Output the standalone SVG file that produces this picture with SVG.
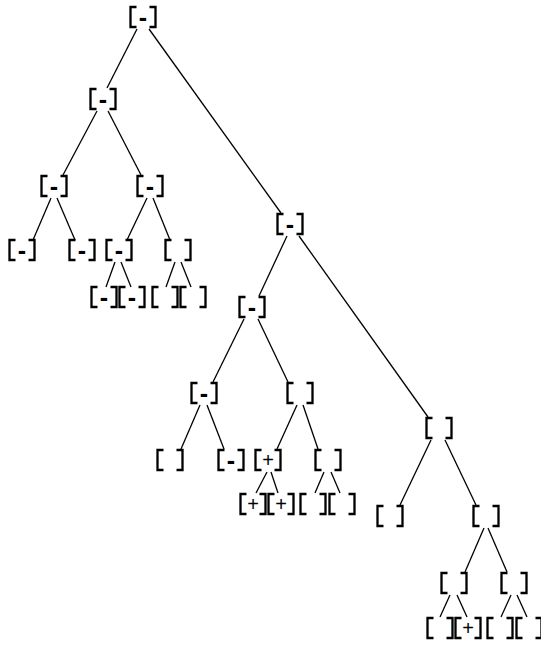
<svg xmlns="http://www.w3.org/2000/svg" width="541" height="646" viewBox="0 0 541 646">
<style>
.b{fill:none;stroke:#000;stroke-width:2.3;stroke-linejoin:miter}
.e line{stroke:#000;stroke-width:1.3}
.m{font-family:"Liberation Sans",Arial,sans-serif;font-weight:bold;font-size:25px;text-anchor:middle;dominant-baseline:central;fill:#000}
.p{font-family:"Liberation Sans",Arial,sans-serif;font-size:20px;text-anchor:middle;dominant-baseline:central;fill:#000}
</style>
<defs>
<path id="bx" class="b" d="M-6.5,-10H-12.5V10H-6.5M6.5,-10H12.5V10H6.5"/>
</defs>
<rect width="541" height="646" fill="#fff"/>
<g class="e" id="edges">
<line x1="137" y1="29" x2="107" y2="88"/>
<line x1="149" y1="29" x2="281" y2="213"/>
<line x1="97" y1="111" x2="63" y2="175"/>
<line x1="108" y1="111" x2="141" y2="175"/>
<line x1="51" y1="198" x2="33" y2="240"/>
<line x1="57" y1="198" x2="75" y2="240"/>
<line x1="147" y1="198" x2="127" y2="240"/>
<line x1="153" y1="198" x2="170" y2="240"/>
<line x1="115" y1="262" x2="106" y2="287"/>
<line x1="121" y1="262" x2="131" y2="287"/>
<line x1="175" y1="262" x2="166" y2="287"/>
<line x1="181" y1="262" x2="191" y2="287"/>
<line x1="287" y1="236" x2="259" y2="296"/>
<line x1="299" y1="236" x2="428" y2="417"/>
<line x1="244" y1="319" x2="213" y2="382"/>
<line x1="258" y1="319" x2="288" y2="382"/>
<line x1="200" y1="405" x2="181" y2="449"/>
<line x1="207" y1="405" x2="224" y2="449"/>
<line x1="297" y1="405" x2="277" y2="449"/>
<line x1="303" y1="405" x2="318" y2="449"/>
<line x1="267" y1="472" x2="256" y2="493"/>
<line x1="271" y1="472" x2="278" y2="493"/>
<line x1="324" y1="472" x2="315" y2="493"/>
<line x1="331" y1="472" x2="340" y2="493"/>
<line x1="431" y1="440" x2="400" y2="505"/>
<line x1="445" y1="440" x2="476" y2="505"/>
<line x1="484" y1="528" x2="465" y2="572"/>
<line x1="488" y1="528" x2="507" y2="572"/>
<line x1="450" y1="595" x2="440" y2="617"/>
<line x1="457" y1="595" x2="467" y2="617"/>
<line x1="511" y1="595" x2="501" y2="617"/>
<line x1="517" y1="595" x2="527" y2="617"/>
</g>
<g id="n0" transform="translate(143,17)"><use href="#bx"/><text class="m">-</text></g>
<g id="n1" transform="translate(103,99)"><use href="#bx"/><text class="m">-</text></g>
<g id="n2" transform="translate(54,186)"><use href="#bx"/><text class="m">-</text></g>
<g id="n3" transform="translate(150,186)"><use href="#bx"/><text class="m">-</text></g>
<g id="n4" transform="translate(22,250)"><use href="#bx"/><text class="m">-</text></g>
<g id="n5" transform="translate(82,250)"><use href="#bx"/><text class="m">-</text></g>
<g id="n6" transform="translate(119,250)"><use href="#bx"/><text class="m">-</text></g>
<g id="n7" transform="translate(178,250)"><use href="#bx"/></g>
<g id="n8" transform="translate(104,297)"><use href="#bx"/><text class="m">-</text></g>
<g id="n9" transform="translate(132,297)"><use href="#bx"/><text class="m">-</text></g>
<g id="n10" transform="translate(165,297)"><use href="#bx"/></g>
<g id="n11" transform="translate(193,297)"><use href="#bx"/></g>
<g id="n12" transform="translate(290,224)"><use href="#bx"/><text class="m">-</text></g>
<g id="n13" transform="translate(252,307)"><use href="#bx"/><text class="m">-</text></g>
<g id="n14" transform="translate(204,393)"><use href="#bx"/><text class="m">-</text></g>
<g id="n15" transform="translate(300,393)"><use href="#bx"/></g>
<g id="n16" transform="translate(170,460)"><use href="#bx"/></g>
<g id="n17" transform="translate(231,460)"><use href="#bx"/><text class="m">-</text></g>
<g id="n18" transform="translate(268,460)"><use href="#bx"/><text class="p">+</text></g>
<g id="n19" transform="translate(328,460)"><use href="#bx"/></g>
<g id="n20" transform="translate(253,504)"><use href="#bx"/><text class="p">+</text></g>
<g id="n21" transform="translate(281,504)"><use href="#bx"/><text class="p">+</text></g>
<g id="n22" transform="translate(313,504)"><use href="#bx"/></g>
<g id="n23" transform="translate(342,504)"><use href="#bx"/></g>
<g id="n24" transform="translate(439,428)"><use href="#bx"/></g>
<g id="n25" transform="translate(390,516)"><use href="#bx"/></g>
<g id="n26" transform="translate(486,516)"><use href="#bx"/></g>
<g id="n27" transform="translate(454,583)"><use href="#bx"/></g>
<g id="n28" transform="translate(514,583)"><use href="#bx"/></g>
<g id="n29" transform="translate(440,628)"><use href="#bx"/></g>
<g id="n30" transform="translate(468,628)"><use href="#bx"/><text class="p">+</text></g>
<g id="n31" transform="translate(500,628)"><use href="#bx"/></g>
<g id="n32" transform="translate(529,628)"><use href="#bx"/></g>
</svg>
